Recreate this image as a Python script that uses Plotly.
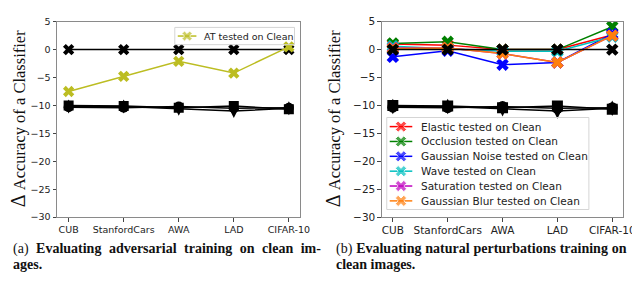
import plotly.graph_objects as go

categories = ["CUB", "StanfordCars", "AWA", "LAD", "CIFAR-10"]

# Left panel: adversarial training
at_clean = [-7.5, -4.8, -2.1, -4.2, 0.5]
baseline_zero = [0, 0, 0, 0, 0]
black_sq = [-10.0, -10.1, -10.4, -10.1, -10.7]
black_ci = [-10.3, -10.4, -10.2, -10.5, -10.4]
black_th = [-10.2, -10.2, -10.6, -11.0, -10.5]

# Right panel: natural perturbations training
elastic = [1.0, 0.8, 0.0, 0.0, 2.6]
occlusion = [1.1, 1.4, 0.0, 0.0, 4.1]
gauss_noise = [-1.3, -0.2, -2.7, -2.3, 2.8]
wave = [0.6, 0.2, -0.3, -0.3, 2.3]
saturation = [0.3, 0.3, -0.7, -2.3, 2.5]
gauss_blur = [0.2, 0.3, -0.7, -2.3, 2.5]

left_series = [("AT tested on Clean", at_clean, "#bcbd22")]
right_series = [
    ("Elastic tested on Clean", elastic, "#ff0000"),
    ("Occlusion tested on Clean", occlusion, "#008000"),
    ("Gaussian Noise tested on Clean", gauss_noise, "#0000ff"),
    ("Wave tested on Clean", wave, "#00bfbf"),
    ("Saturation tested on Clean", saturation, "#bf00bf"),
    ("Gaussian Blur tested on Clean", gauss_blur, "#ff7f0e"),
]

yticks = [5, 0, -5, -10, -15, -20, -25, -30]

W, H = 640, 288
fig = go.Figure()


def black_lines(xa, ya, msize):
    for vals, sym in [(black_sq, "square"), (black_ci, "circle"), (black_th, "diamond-tall")]:
        fig.add_trace(go.Scatter(x=categories, y=vals, mode="lines+markers",
                                 line=dict(color="black", width=1.5),
                                 marker=dict(symbol=sym, size=msize, color="black"),
                                 showlegend=False, xaxis=xa, yaxis=ya))
    fig.add_trace(go.Scatter(x=categories, y=baseline_zero, mode="lines+markers",
                             line=dict(color="black", width=1.5),
                             marker=dict(symbol="x", size=msize, color="black"),
                             showlegend=False, xaxis=xa, yaxis=ya))


def series(xa, ya, items, msize):
    for name, vals, col in items:
        fig.add_trace(go.Scatter(x=categories, y=vals, mode="lines+markers", name=name,
                                 line=dict(color=col, width=1.5),
                                 marker=dict(symbol="x", size=msize, color=col),
                                 showlegend=False, xaxis=xa, yaxis=ya))


# left panel
black_lines("x", "y", 10)
series("x", "y", left_series, 10)
# right panel
series("x2", "y2", right_series, 11)
black_lines("x2", "y2", 11)


# hand-drawn matplotlib-style legends on a pixel-coordinate overlay axis
def draw_legend(items, box, y0, step, hx0, hx1, tx, fsize, msize):
    fig.add_shape(type="rect", xref="x3", yref="y3", x0=box[0], y0=box[1], x1=box[2], y1=box[3],
                  line=dict(color="#d5d5d5", width=1), fillcolor="rgba(0,0,0,0)", layer="above")
    for i, (name, _, col) in enumerate(items):
        yy = y0 + i * step
        fig.add_trace(go.Scatter(x=[hx0, (hx0 + hx1) / 2, hx1], y=[yy, yy, yy],
                                 mode="lines+markers", line=dict(color=col, width=1.5),
                                 marker=dict(symbol="x", size=[0, msize, 0], color=col),
                                 showlegend=False, hoverinfo="skip", xaxis="x3", yaxis="y3"))
        fig.add_annotation(text=name, x=tx, y=yy, xref="x3", yref="y3", showarrow=False,
                           xanchor="left", yanchor="middle",
                           font=dict(family="DejaVu Sans", size=fsize, color="#222222"))


draw_legend(left_series, (170, 14, 292, 32), 23, 0, 173, 192, 198, 9.5, 9)
draw_legend(right_series, (386, 108, 592, 204), 117.5, 15.5, 389, 412, 419, 10.5, 10)

ydom = [(H - 212) / H, (H - 8) / H]


def axis_style(fs):
    return dict(showline=True, linecolor="#8a8a8a", linewidth=1, mirror=True,
                ticks="outside", ticklen=3.5, tickcolor="#444444", showgrid=False,
                zeroline=False, tickfont=dict(family="DejaVu Sans", size=fs, color="#222222"))


fig.update_layout(
    width=W, height=H, margin=dict(l=0, r=0, t=0, b=0),
    paper_bgcolor="white", plot_bgcolor="rgba(0,0,0,0)",
    xaxis=dict(domain=[50 / W, 298 / W], range=[-0.21, 4.21], **axis_style(9.5)),
    yaxis=dict(domain=ydom, range=[-30, 5], tickvals=yticks, **axis_style(9.5)),
    xaxis2=dict(domain=[381 / W, 627 / W], range=[-0.2, 4.2], anchor="y2", **axis_style(10.5)),
    yaxis2=dict(domain=ydom, range=[-30, 5], tickvals=yticks, anchor="x2", **axis_style(10.5)),
    xaxis3=dict(domain=[0, 1], range=[0, W], visible=False, anchor="y3", fixedrange=True),
    yaxis3=dict(domain=[0, 1], range=[H, 0], visible=False, anchor="x3", fixedrange=True),
    showlegend=False,
)

ytitle = '<span style="font-size:20px">Δ</span> Accuracy of a Classifier'
for xp in [11, 332]:
    fig.add_annotation(text=ytitle, x=xp / W, y=1 - 109 / H, xref="paper", yref="paper",
                       textangle=-90, showarrow=False, xanchor="center", yanchor="middle",
                       font=dict(family="Liberation Serif", size=16.5, color="#111111"))

cap_font = dict(family="Liberation Serif", size=14, color="#111111")
captions = [
    (3, 245, '<span style="word-spacing:4px">(a) <b>Evaluating adversarial training on clean im-</b></span>'),
    (3, 261, "<b>ages.</b>"),
    (332, 245, '<span style="word-spacing:0.3px">(b) <b>Evaluating natural perturbations training on</b></span>'),
    (332, 261, "<b>clean images.</b>"),
]
for xp, yp, t in captions:
    fig.add_annotation(text=t, x=xp / W, y=1 - yp / H, xref="paper", yref="paper",
                       showarrow=False, xanchor="left", yanchor="middle", font=cap_font)

fig.add_annotation(text="Figure 3: Comparing the performance of adversarial training with natural perturbations training and the",
                   x=0, y=1 - 294 / H, xref="paper", yref="paper", showarrow=False,
                   xanchor="left", yanchor="middle",
                   font=dict(family="Liberation Serif", size=13, color="#d8d8d8"))

fig.write_html("out.html")
